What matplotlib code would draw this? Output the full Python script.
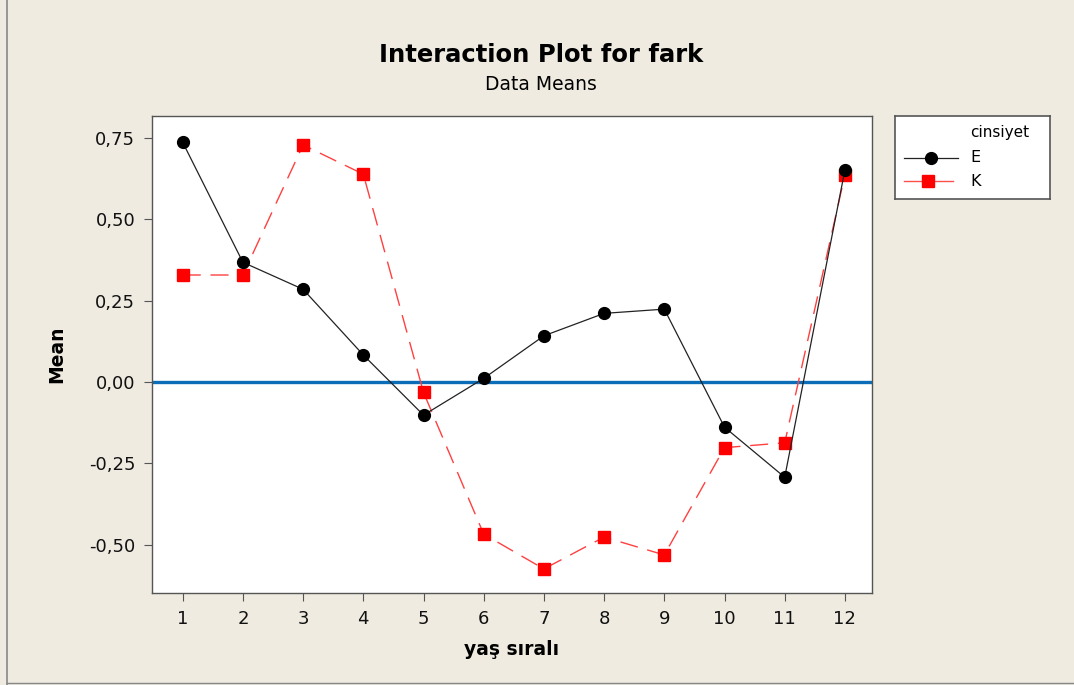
import numpy as np
import matplotlib.pyplot as plt
from matplotlib.lines import Line2D

# yaş sıralı groups and cell means of fark for each cinsiyet
yas = list(range(1, 13))
mean_e = [0.737, 0.368, 0.285, 0.083, -0.102, 0.011, 0.142, 0.211, 0.224, -0.139, -0.293, 0.652]
mean_k = [0.329, 0.329, 0.729, 0.639, -0.032, -0.468, -0.575, -0.477, -0.532, -0.202, -0.187, 0.637]
y_ticks = [-0.50, -0.25, 0.00, 0.25, 0.50, 0.75]

bg = '#efebe1'
fig = plt.figure(figsize=(10.74, 6.85), dpi=100, facecolor=bg)
W, H = 1074, 685
ax = fig.add_axes([152 / W, 1 - 593 / H, (872 - 152) / W, (593 - 116) / H])
ax.set_facecolor('white')

ax.axhline(0, color='#0b6cb8', lw=2.4, zorder=1)
ax.plot(yas, mean_e, color='#222222', lw=0.9, marker='o', ms=8.5,
        mfc='black', mec='black', zorder=3, label='E')
ax.plot(yas, mean_k, color='#ff4040', lw=1.0, dashes=(13, 7), marker='s', ms=8.5,
        mfc='red', mec='red', zorder=2, label='K')

ax.set_xlim(0.49, 12.45)
ax.set_ylim(-0.649, 0.818)
ax.set_xticks(yas)
ax.set_yticks(y_ticks)
ax.set_yticklabels([('%.2f' % v).replace('.', ',') for v in y_ticks])
ax.tick_params(labelsize=13, length=6, width=0.8, color='#555555', pad=6,
               labelcolor='#111111')
for s in ax.spines.values():
    s.set_color('#555555')
    s.set_linewidth(1.0)

ax.set_xlabel('yaş sıralı', fontsize=13.5, fontweight='bold', labelpad=9)
ax.set_ylabel('Mean', fontsize=13.5, fontweight='bold', labelpad=16)

fig.text(541 / W, 1 - 55 / H, 'Interaction Plot for fark', ha='center', va='center',
         fontsize=17.5, fontweight='bold')
fig.text(541 / W, 1 - 85 / H, 'Data Means', ha='center', va='center', fontsize=13.5)

# legend drawn as its own small axes
lax = fig.add_axes([895 / W, 1 - 199 / H, (1050 - 895) / W, (199 - 116) / H])
lax.set_xlim(895, 1050)
lax.set_ylim(199, 116)
lax.set_xticks([])
lax.set_yticks([])
lax.set_facecolor('white')
for s in lax.spines.values():
    s.set_color('#555555')
    s.set_linewidth(1.2)
lax.text(970, 132, 'cinsiyet', ha='left', va='center', fontsize=11)
lax.add_line(Line2D([904, 958], [158, 158], color='#222222', lw=0.9))
lax.plot([931], [158], marker='o', ms=8.5, color='black')
lax.text(970, 158, 'E', ha='left', va='center', fontsize=11.5)
lax.add_line(Line2D([904, 953], [181, 181], color='#ff5050', lw=1.0))
lax.plot([928], [181], marker='s', ms=8.5, color='red')
lax.text(970, 182, 'K', ha='left', va='center', fontsize=11.5)

# outer frame line on the left and bottom
fig.add_artist(Line2D([7 / W, 7 / W], [0, 1], color='#888888', lw=1.2))
fig.add_artist(Line2D([7 / W, 1], [1 - 683 / H, 1 - 683 / H], color='#888888', lw=1.0))

fig.savefig('out.png', dpi=100, facecolor=bg)
